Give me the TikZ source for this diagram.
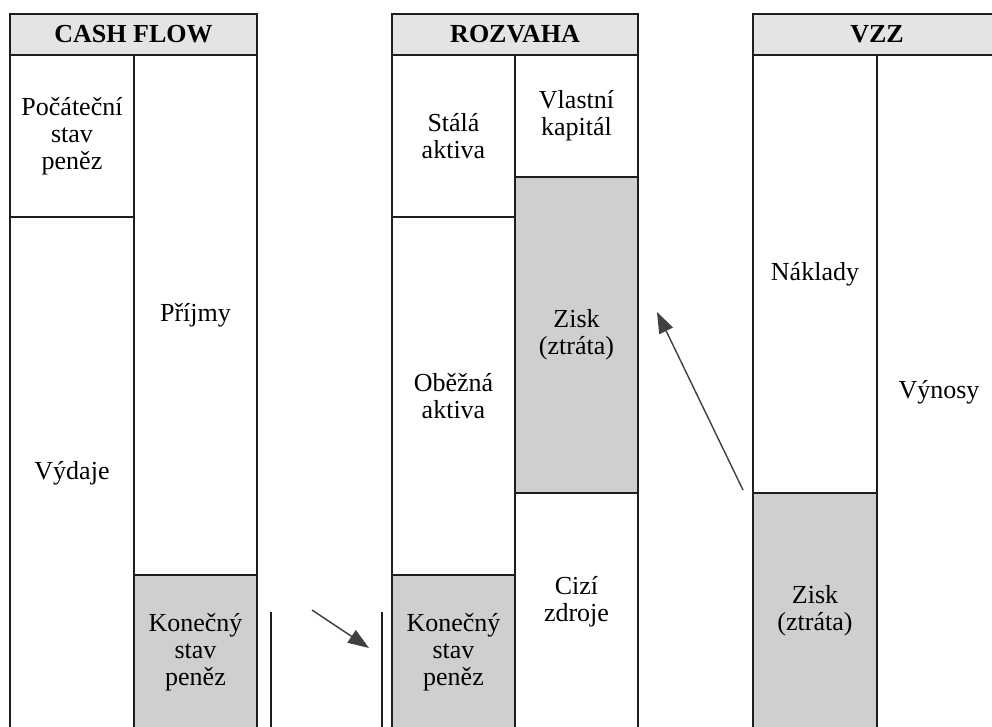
\documentclass[tikz,border=0pt]{standalone}
\usepackage{fontspec}
\setmainfont{Liberation Serif}
\usetikzlibrary{arrows.meta}
\definecolor{hdr}{RGB}{228,228,228}
\definecolor{shade}{RGB}{208,206,208}
\definecolor{ln}{RGB}{30,30,30}
\tikzset{
  cell/.style={draw=ln, line width=1.1pt, inner sep=0pt, outer sep=0pt, anchor=north west, align=center, font=\fontsize{26}{27}\selectfont, fill=white},
  hdrcell/.style={cell, fill=hdr, font=\fontsize{26}{27}\selectfont\bfseries},
  gcell/.style={cell, fill=shade},
  txt/.style={inner sep=0pt, align=center, font=\fontsize{26}{27}\selectfont},
  arr/.style={draw=ln!85, line width=1.4pt, -{Triangle[length=21pt,width=15pt]}},
  bar/.style={draw=ln, line width=1.1pt}
}
\begin{document}
\begin{tikzpicture}[x=1pt,y=-1pt]
\useasboundingbox (0,0) rectangle (992,727);
\clip (0,0) rectangle (992,727);
\fill[white] (0,0) rectangle (992,727);
% CASH FLOW
\node[hdrcell, minimum width=247pt, minimum height=41pt] (cfh) at (10,14) {CASH FLOW};
\node[cell, minimum width=124pt, minimum height=162pt] (cfp) at (10,55) {Počáteční\\stav\\peněz};
\node[cell, minimum width=124pt, minimum height=512pt] (cfv) at (10,217) {Výdaje};
\node[cell, minimum width=123pt, minimum height=520pt] (cfpr) at (134,55) {Příjmy};
\node[gcell, minimum width=123pt, minimum height=154pt] (cfk) at (134,575) {Konečný\\stav\\peněz};
% ROZVAHA
\node[hdrcell, minimum width=246pt, minimum height=41pt] (rzh) at (392,14) {ROZVAHA};
\node[cell, minimum width=123pt, minimum height=162pt] (rzs) at (392,55) {Stálá\\aktiva};
\node[cell, minimum width=123pt, minimum height=358pt] (rzo) at (392,217) {Oběžná\\aktiva};
\node[gcell, minimum width=123pt, minimum height=154pt] (rzk) at (392,575) {Konečný\\stav\\peněz};
\node[cell, minimum width=123pt, minimum height=122pt] (rzv) at (515,55) {Vlastní\\kapitál};
\node[gcell, minimum width=123pt, minimum height=316pt] (rzz) at (515,177) {Zisk\\(ztráta)};
\node[cell, minimum width=123pt, minimum height=236pt] (rzc) at (515,493) {};
\node[txt] (rzct) at ([yshift=9pt]rzc.center) {Cizí\\zdroje};
% VZZ
\node[hdrcell, minimum width=248pt, minimum height=41pt] (vzh) at (753,14) {VZZ};
\node[cell, minimum width=124pt, minimum height=438pt] (vzn) at (753,55) {Náklady};
\node[gcell, minimum width=124pt, minimum height=236pt] (vzz) at (753,493) {Zisk\\(ztráta)};
\node[cell, minimum width=124pt, minimum height=674pt] (vzv) at (877,55) {Výnosy};
% bars
\coordinate (b1t) at (271,612); \coordinate (b1b) at (271,730);
\coordinate (b2t) at (382,612); \coordinate (b2b) at (382,730);
\draw[bar] (b1t) -- (b1b);
\draw[bar] (b2t) -- (b2b);
% arrows
\coordinate (a1s) at (312,610); \coordinate (a1e) at (369,648);
\coordinate (a2s) at (743,490); \coordinate (a2e) at (657,312);
\draw[arr] (a1s) -- (a1e);
\draw[arr] (a2s) -- (a2e);
\end{tikzpicture}
\end{document}
